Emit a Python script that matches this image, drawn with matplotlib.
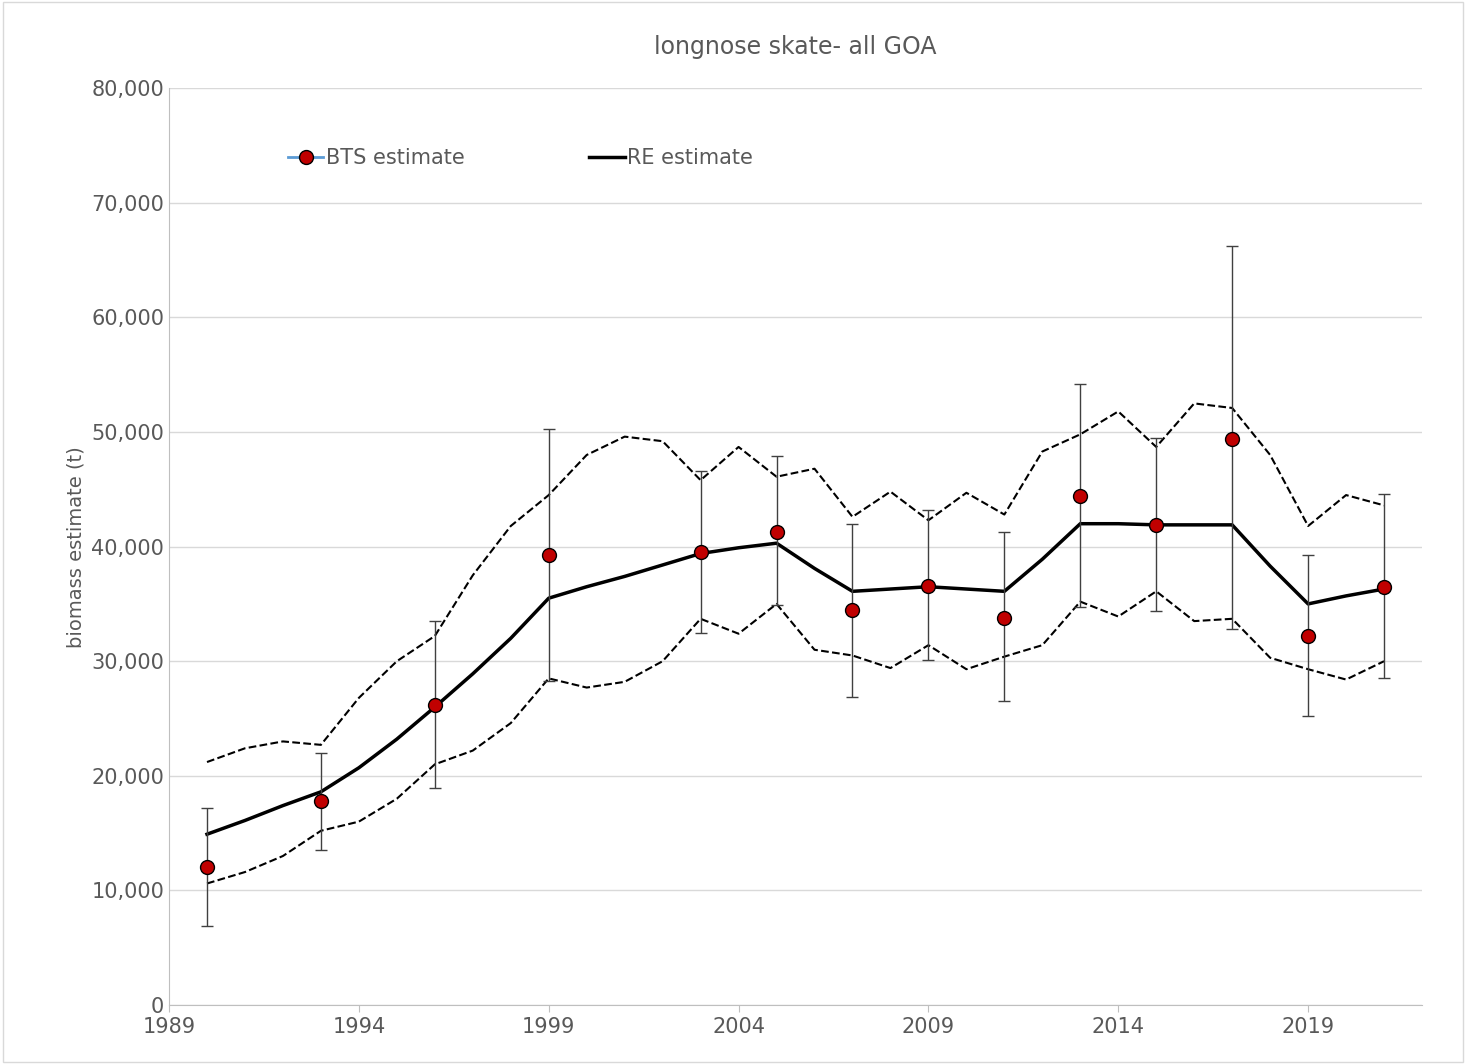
import matplotlib
matplotlib.use("Agg")
import matplotlib.pyplot as plt
from matplotlib.lines import Line2D
from matplotlib.ticker import FuncFormatter, MultipleLocator

# survey points (BTS) with error bars
bts_year = [1990, 1993, 1996, 1999, 2003, 2005, 2007, 2009, 2011, 2013, 2015, 2017, 2019, 2021]
bts_est = [12000, 17800, 26200, 39300, 39500, 41300, 34500, 36600, 33800, 44400, 41900, 49400, 32200, 36500]
bts_lo = [6900, 13500, 18900, 28300, 32500, 34900, 26900, 30100, 26500, 34700, 34400, 32800, 25200, 28500]
bts_hi = [17200, 22000, 33500, 50300, 46600, 47900, 42000, 43200, 41300, 54200, 49500, 66200, 39300, 44600]

# random-effects model fit
re_year = list(range(1990, 2022))
re_est = [14900, 16100, 17400, 18600, 20700, 23200, 26000, 28900, 32000, 35500, 36500, 37400,
          38400, 39400, 39900, 40300, 38100, 36100, 36300, 36500, 36300, 36100, 38900, 42000,
          42000, 41900, 41900, 41900, 38300, 35000, 35700, 36300]
re_hi = [21200, 22400, 23000, 22700, 26800, 30000, 32200, 37500, 41800, 44500, 48000, 49600,
         49200, 45800, 48700, 46100, 46800, 42600, 44800, 42300, 44700, 42800, 48300, 49800,
         51800, 48700, 52500, 52100, 48000, 41800, 44500, 43600]
re_lo = [10600, 11600, 13000, 15200, 16000, 18000, 21000, 22200, 24600, 28500, 27700, 28200,
         30000, 33700, 32400, 35000, 31000, 30500, 29400, 31400, 29300, 30400, 31400, 35200,
         33900, 36100, 33500, 33700, 30300, 29300, 28400, 30000]

x_ticks = [1989, 1994, 1999, 2004, 2009, 2014, 2019]

grey = "#595959"
fig = plt.figure(figsize=(14.66, 10.64), dpi=100)
fig.patches.append(plt.Rectangle((0.002, 0.002), 0.996, 0.996, transform=fig.transFigure,
                                 fill=False, edgecolor="#d9d9d9", lw=1))
ax = fig.add_axes([0.1153, 0.0555, 0.8547, 0.8615])

ax.plot(re_year, re_hi, "k--", lw=1.5)
ax.plot(re_year, re_lo, "k--", lw=1.5)
ax.plot(re_year, re_est, "k-", lw=2.5)
yerr = [[e - l for e, l in zip(bts_est, bts_lo)], [h - e for e, h in zip(bts_est, bts_hi)]]
ax.errorbar(bts_year, bts_est, yerr=yerr, fmt="none", ecolor="#404040", elinewidth=1,
            capsize=4, capthick=1)
ax.plot(bts_year, bts_est, "o", ls="none", mfc="#c00000", mec="black", ms=10)

ax.set_xlim(1989, 2022.0)
ax.set_ylim(0, 80000)
ax.set_xticks(x_ticks)
ax.yaxis.set_major_locator(MultipleLocator(10000))
ax.yaxis.set_major_formatter(FuncFormatter(lambda v, p: f"{int(v):,}"))
ax.grid(axis="y", color="#d9d9d9", lw=1)
ax.set_axisbelow(True)
for s in ["top", "right"]:
    ax.spines[s].set_visible(False)
for s in ["left", "bottom"]:
    ax.spines[s].set_color("#bfbfbf")
ax.tick_params(colors=grey, labelsize=15, length=5)
ax.tick_params(axis="y", length=0)
ax.tick_params(axis="x", color="#bfbfbf")
ax.set_ylabel("biomass estimate (t)", color=grey, fontsize=14)
ax.set_title("longnose skate- all GOA", color=grey, fontsize=17, pad=25)

bts_h = Line2D([], [], color="#5b9bd5", lw=2, marker="o", mfc="#c00000", mec="black", ms=10)
re_h = Line2D([], [], color="black", lw=2.5)
ax.legend([bts_h, re_h], ["BTS estimate", "RE estimate"], ncol=2, frameon=False,
          loc="upper left", bbox_to_anchor=(0.08, 0.955), fontsize=15, labelcolor=grey,
          handlelength=1.7, handletextpad=0.1, columnspacing=6)

fig.savefig("out.png", dpi=100)
